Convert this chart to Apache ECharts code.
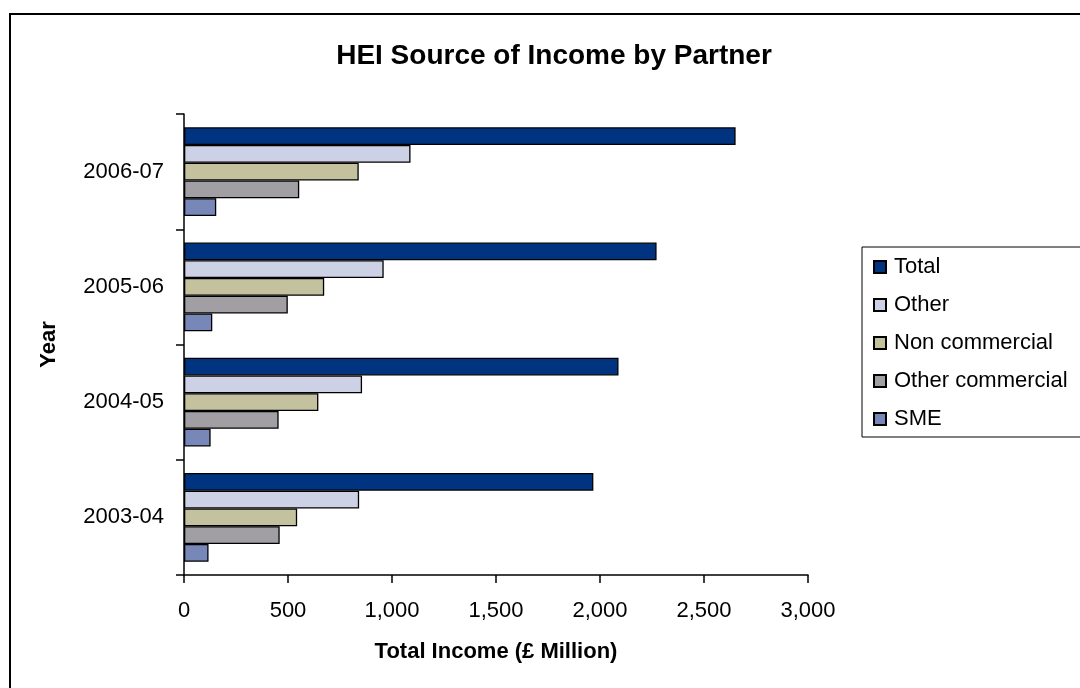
<!DOCTYPE html>
<html>
<head>
<meta charset="utf-8">
<title>HEI Source of Income by Partner</title>
<script src="https://cdn.jsdelivr.net/npm/echarts@6/dist/echarts.min.js"></script>
<style>
  html, body { margin: 0; padding: 0; background: #fff; }
  #main { width: 1080px; height: 688px; }
</style>
</head>
<body>
<div id="main"></div>
<script>
// values, £ million
const years = ['2003-04', '2004-05', '2005-06', '2006-07'];
const total = [1968, 2089, 2272, 2652];
const other = [842, 856, 960, 1089];
const nonCommercial = [544, 646, 674, 840];
const otherCommercial = [460, 455, 499, 554];
const sme = [118, 128, 136, 155];

const font = 'Liberation Sans, Arial, sans-serif';

let chartDom = document.getElementById('main');
let myChart = echarts.init(chartDom);

function barSeries(name, data, color) {
  return {
    name: name,
    type: 'bar',
    data: data,
    barGap: '0%',
    barCategoryGap: '23%',
    itemStyle: { color: color, borderColor: '#000', borderWidth: 1.3 }
  };
}

let option = {
  backgroundColor: '#fff',
  animation: false,
  title: {
    text: 'HEI Source of Income by Partner',
    left: 549,
    top: 37,
    textAlign: 'center',
    textStyle: { fontFamily: font, fontSize: 28, fontWeight: 'bold', color: '#000' }
  },
  graphic: [{
    type: 'rect',
    shape: { x: 10, y: 14, width: 1100, height: 700 },
    style: { fill: 'none', stroke: '#000', lineWidth: 2 },
    silent: true
  }],
  legend: {
    orient: 'vertical',
    left: 862,
    top: 247,
    padding: [9, 30, 7, 11],
    itemWidth: 12,
    itemHeight: 12,
    itemGap: 16,
    icon: 'rect',
    borderColor: '#000',
    borderWidth: 1,
    data: ['Total', 'Other', 'Non commercial', 'Other commercial', 'SME'],
    textStyle: { fontFamily: font, fontSize: 22, color: '#000', lineHeight: 22, padding: [0, 0, 0, 3] }
  },
  grid: {
    left: 184,
    top: 114,
    right: 272,
    bottom: 113
  },
  xAxis: {
    type: 'value',
    min: 0,
    max: 3000,
    interval: 500,
    name: 'Total Income (£ Million)',
    nameLocation: 'middle',
    nameGap: 66,
    nameTextStyle: { fontFamily: font, fontSize: 22, fontWeight: 'bold', color: '#000' },
    axisLine: { show: true, lineStyle: { color: '#000', width: 1.5 } },
    axisTick: { show: true, length: 8, lineStyle: { color: '#000', width: 1.5 } },
    splitLine: { show: false },
    axisLabel: {
      margin: 25,
      fontFamily: font,
      fontSize: 22,
      color: '#000',
      formatter: function (v) { return v.toLocaleString('en-GB'); }
    }
  },
  yAxis: {
    type: 'category',
    data: years,
    name: 'Year',
    nameLocation: 'middle',
    nameGap: 124,
    nameRotate: 90,
    nameTextStyle: { fontFamily: font, fontSize: 22, fontWeight: 'bold', color: '#000' },
    axisLine: { show: true, lineStyle: { color: '#000', width: 1.5 } },
    axisTick: { show: true, length: 8, lineStyle: { color: '#000', width: 1.5 } },
    axisLabel: { margin: 20, fontFamily: font, fontSize: 22, color: '#000' }
  },
  // first series sits at the bottom of each band, so Total goes last
  series: [
    barSeries('SME', sme, '#7687b8'),
    barSeries('Other commercial', otherCommercial, '#a19fa3'),
    barSeries('Non commercial', nonCommercial, '#c4c29e'),
    barSeries('Other', other, '#ccd1e5'),
    barSeries('Total', total, '#003380')
  ].reverse()
};
option && myChart.setOption(option);
</script>
</body>
</html>
